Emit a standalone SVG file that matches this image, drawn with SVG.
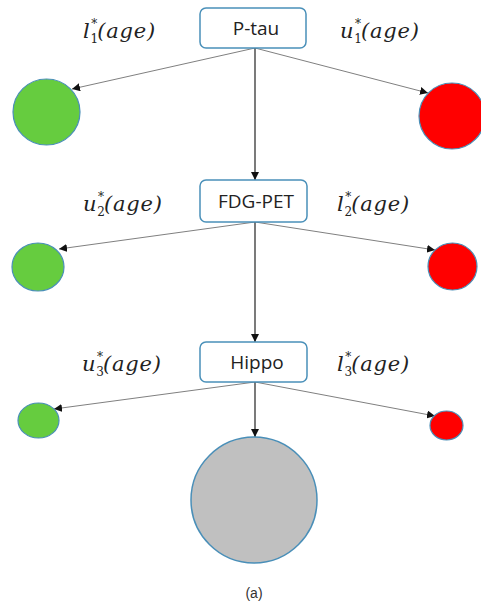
<svg xmlns="http://www.w3.org/2000/svg" width="481" height="608" viewBox="0 0 481 608">
<style>
.box{fill:#fff;stroke:#4a90b9;stroke-width:1.5}
.bt{font-family:"Open Sans","Liberation Sans",Arial,sans-serif;font-size:19px;fill:#222;text-anchor:middle}
.lab{font-family:"DejaVu Serif","Liberation Serif",serif;font-style:italic;font-size:21px;fill:#222;letter-spacing:0.8px}
.sub{font-size:12px;font-style:normal;letter-spacing:0}
.g{fill:#66cc3f;stroke:#4a8fb8;stroke-width:1.2}
.r{fill:#ff0000;stroke:#4a8fb8;stroke-width:1.2}
.gr{fill:#c0c0c0;stroke:#4a8fb8;stroke-width:1.5}
.e{stroke:#808080;stroke-width:1;fill:none;marker-end:url(#ah)}
.v{stroke:#333;stroke-width:1.3;fill:none;marker-end:url(#ah)}
.cap{font-family:"Liberation Sans",Arial,sans-serif;font-size:14px;fill:#333;text-anchor:middle}
</style>
<defs>
<marker id="ah" viewBox="0 0 10 10" refX="10" refY="5" markerWidth="8" markerHeight="8" markerUnits="userSpaceOnUse" orient="auto">
<path d="M0,0 L10,5 L0,10 z" fill="#111"/>
</marker>
</defs>
<rect width="481" height="608" fill="#fff"/>
<g id="connectors">
<line class="e" x1="255" y1="48" x2="72" y2="89"/>
<line class="e" x1="255" y1="48" x2="428" y2="93"/>
<line class="v" x1="255" y1="48" x2="255" y2="180"/>
<line class="e" x1="255" y1="222" x2="59" y2="249"/>
<line class="e" x1="255" y1="222" x2="435" y2="250"/>
<line class="v" x1="255" y1="222" x2="255" y2="342"/>
<line class="e" x1="255" y1="382" x2="54" y2="409"/>
<line class="e" x1="255" y1="382" x2="435" y2="416"/>
<line class="v" x1="255" y1="382" x2="255" y2="437"/>
</g>
<g id="ptau">
<rect class="box" x="200" y="8" width="106" height="40" rx="6"/>
<text class="bt" x="256" y="35">P-tau</text>
</g>
<g id="fdgpet">
<rect class="box" x="200" y="180" width="107" height="42" rx="6"/>
<text class="bt" x="256" y="208">FDG-PET</text>
</g>
<g id="hippo">
<rect class="box" x="200" y="342" width="107" height="40" rx="6"/>
<text class="bt" x="257" y="369">Hippo</text>
</g>
<g id="green1"><ellipse class="g" cx="46.5" cy="112" rx="33.5" ry="33"/></g>
<g id="red1"><ellipse class="r" cx="452" cy="116" rx="33" ry="33"/></g>
<g id="green2"><ellipse class="g" cx="38" cy="267" rx="26" ry="24"/></g>
<g id="red2"><ellipse class="r" cx="452.5" cy="266.5" rx="24.5" ry="23.5"/></g>
<g id="green3"><ellipse class="g" cx="38.5" cy="420.5" rx="20.5" ry="17.5"/></g>
<g id="red3"><ellipse class="r" cx="446.5" cy="425.5" rx="16.5" ry="14.5"/></g>
<g id="gray"><circle class="gr" cx="254" cy="500" r="63"/></g>
<g id="labels">
<text class="lab" x="83" y="38">l<tspan class="sub" dy="5">1</tspan><tspan class="sub" dx="-7" dy="-15">*</tspan><tspan dy="10">(age)</tspan></text>
<text class="lab" x="340" y="38">u<tspan class="sub" dy="5">1</tspan><tspan class="sub" dx="-7" dy="-15">*</tspan><tspan dy="10">(age)</tspan></text>
<text class="lab" x="83" y="211">u<tspan class="sub" dy="5">2</tspan><tspan class="sub" dx="-7" dy="-15">*</tspan><tspan dy="10">(age)</tspan></text>
<text class="lab" x="337" y="211">l<tspan class="sub" dy="5">2</tspan><tspan class="sub" dx="-7" dy="-15">*</tspan><tspan dy="10">(age)</tspan></text>
<text class="lab" x="82" y="371">u<tspan class="sub" dy="5">3</tspan><tspan class="sub" dx="-7" dy="-15">*</tspan><tspan dy="10">(age)</tspan></text>
<text class="lab" x="337" y="371">l<tspan class="sub" dy="5">3</tspan><tspan class="sub" dx="-7" dy="-15">*</tspan><tspan dy="10">(age)</tspan></text>
</g>
<text class="cap" x="254" y="598">(a)</text>
</svg>
